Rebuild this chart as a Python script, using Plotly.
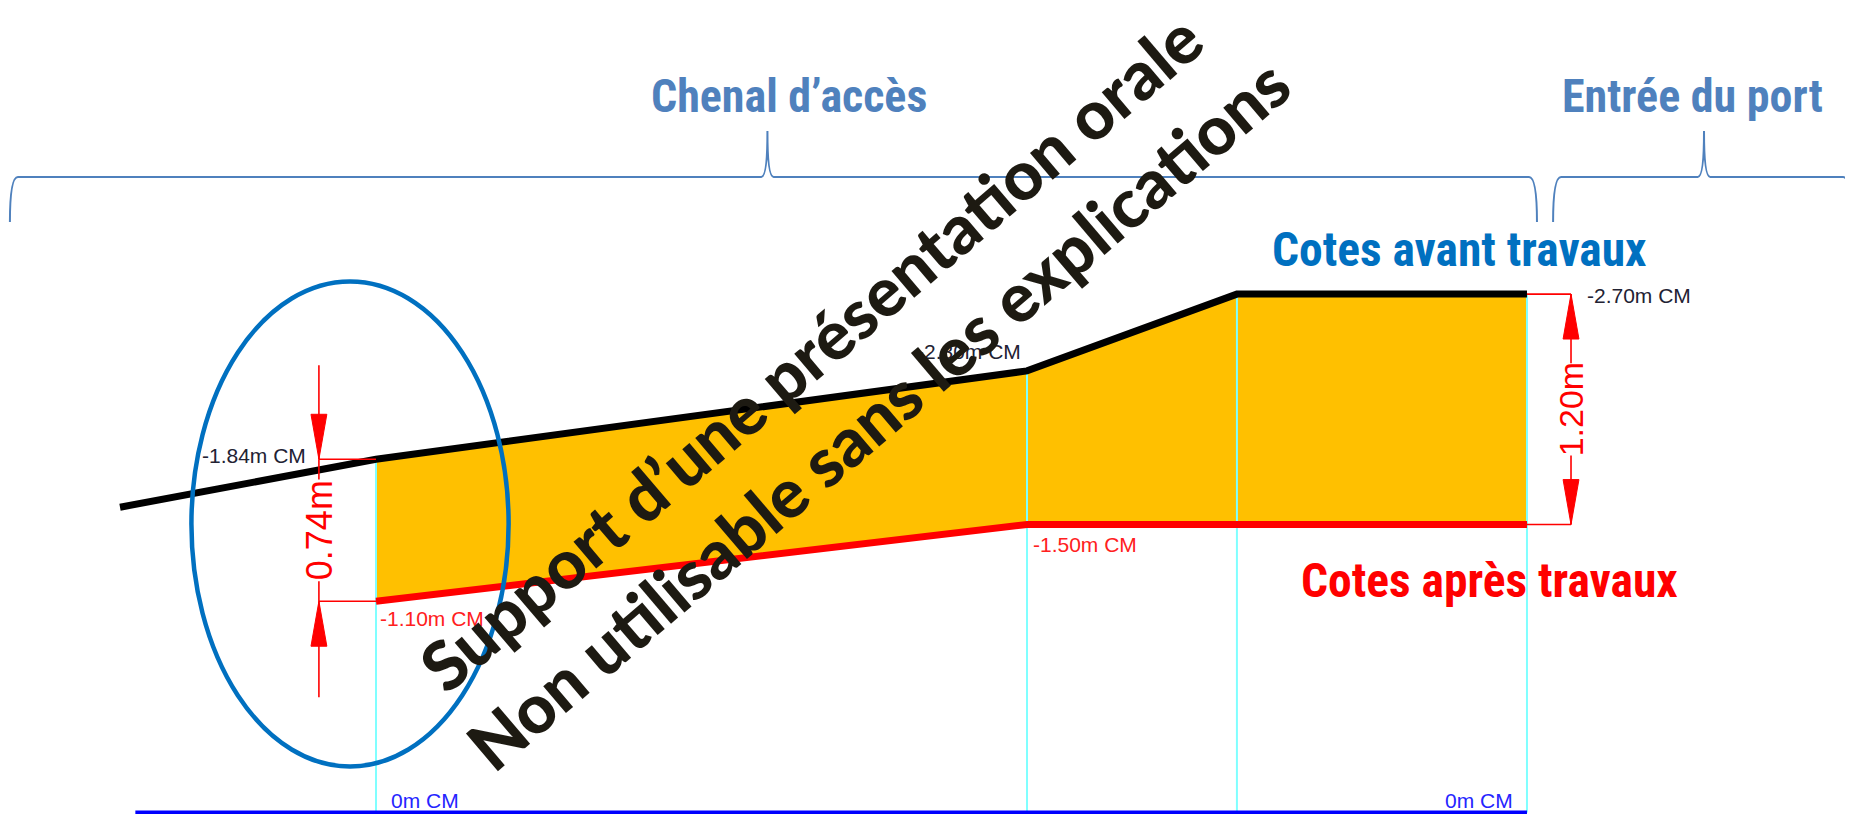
import plotly.graph_objects as go

# ---------------- data ----------------
# chainage (arbitrary metres along the channel) and levels (m CM)
x_avant = [0, 100, 354.3, 436.3, 549.6]
cotes_avant = [-1.59, -1.84, -2.30, -2.70, -2.70]
x_apres = [100, 354.3, 549.6]
cotes_apres = [-1.10, -1.50, -1.50]
x_zero = [6, 549.6]
cotes_zero = [0.0, 0.0]

labels_avant = ["-1.84m CM", "-2.30m CM", "-2.70m CM"]
labels_apres = ["-1.10m CM", "-1.50m CM"]
label_zero = "0m CM"

sections = ["Chenal d’accès", "Entrée du port"]
section_start = [-43.0, 559.8]
section_end = [553.5, 676.2]
section_peak = [252.9, 618.75]
section_text_x = [261.3, 614.1]

dims = ["0.74m", "1.20m"]

watermark = ["Support d’une présentation orale",
             "Non utilisable sans les explications"]

# ---------------- styles ----------------
BLUE_T = "#4F81BD"
BLUE2 = "#0070C0"
ORANGE = "#FFC000"
RED = "#FF0000"
CYAN = "#80FFFF"
NARROW = "Liberation Sans Narrow, Arial Narrow, Roboto Condensed, DejaVu Sans Condensed, sans-serif"
ARIAL = "Liberation Sans, Arial, sans-serif"

fig = go.Figure()

# orange fill between profiles
fx = [x for x in x_avant if x >= x_apres[0]] + x_apres[::-1]
fy = [c for x, c in zip(x_avant, cotes_avant) if x >= x_apres[0]] + cotes_apres[::-1]
fig.add_trace(go.Scatter(x=fx, y=fy, fill="toself", fillcolor=ORANGE, mode="lines",
                         line=dict(width=0), hoverinfo="skip"))

# cyan verticals at profile points
vx, vy = [], []
for x, c in zip(x_avant[1:], cotes_avant[1:]):
    vx += [x, x, None]
    vy += [c, 0, None]
fig.add_trace(go.Scatter(x=vx, y=vy, mode="lines", line=dict(color=CYAN, width=2), hoverinfo="skip"))

# profiles
fig.add_trace(go.Scatter(x=x_avant, y=cotes_avant, mode="lines",
                         line=dict(color="black", width=7), hoverinfo="skip"))
fig.add_trace(go.Scatter(x=x_apres, y=cotes_apres, mode="lines",
                         line=dict(color=RED, width=7), hoverinfo="skip"))
fig.add_trace(go.Scatter(x=x_zero, y=cotes_zero, mode="lines",
                         line=dict(color="#0000FF", width=4), hoverinfo="skip", cliponaxis=False))

shapes = []
ann = []

# braces
def brace(xa, xb, xm, yh=-3.310, yl=-3.076, yp=-3.549, r=3.1, rp=2.4):
    return (f"M {xa},{yl} Q {xa},{yh} {xa + r},{yh} L {xm - rp},{yh} Q {xm},{yh} {xm},{yp} "
            f"Q {xm},{yh} {xm + rp},{yh} L {xb - r},{yh} Q {xb},{yh} {xb},{yl}")

for name, xa, xb, xm, tx in zip(sections, section_start, section_end, section_peak, section_text_x):
    shapes.append(dict(type="path", path=brace(xa, xb, xm), xref="x", yref="y",
                       line=dict(color=BLUE_T, width=2)))
    ann.append(dict(x=tx, y=-3.734, text=name, showarrow=False, xanchor="center", yanchor="middle",
                    font=dict(family=NARROW, size=46, color=BLUE_T, weight="bold")))

ann.append(dict(x=523.4, y=-2.93, text="Cotes avant travaux", showarrow=False,
                font=dict(family=NARROW, size=47.5, color=BLUE2, weight="bold")))
ann.append(dict(x=534.8, y=-1.206, text="Cotes après travaux", showarrow=False,
                font=dict(family=NARROW, size=47.5, color=RED, weight="bold")))

# level labels
small = 21
ann.append(dict(x=x_avant[1], y=cotes_avant[1], text=labels_avant[0], showarrow=False,
                xanchor="right", yanchor="middle", xshift=-68, yshift=4,
                font=dict(family=ARIAL, size=small, color="#222233")))
ann.append(dict(x=x_avant[2], y=cotes_avant[2], text=labels_avant[1], showarrow=False,
                xanchor="right", yanchor="middle", xshift=-4, yshift=19,
                font=dict(family=ARIAL, size=small, color="#222233")))
ann.append(dict(x=x_avant[4], y=cotes_avant[4], text=labels_avant[2], showarrow=False,
                xanchor="left", yanchor="middle", xshift=58, yshift=-1,
                font=dict(family=ARIAL, size=small, color="#222233")))
ann.append(dict(x=x_apres[0], y=cotes_apres[0], text=labels_apres[0], showarrow=False,
                xanchor="left", yanchor="middle", xshift=2, yshift=-17,
                font=dict(family=ARIAL, size=small, color="#FF2020")))
ann.append(dict(x=x_apres[1], y=cotes_apres[1], text=labels_apres[1], showarrow=False,
                xanchor="left", yanchor="middle", xshift=4, yshift=-20,
                font=dict(family=ARIAL, size=small, color="#FF2020")))
ann.append(dict(x=x_apres[0], y=0, text=label_zero, showarrow=False,
                xanchor="left", yanchor="middle", xshift=13, yshift=12,
                font=dict(family=ARIAL, size=small, color="#2525FF")))
ann.append(dict(x=x_avant[4], y=0, text=label_zero, showarrow=False,
                xanchor="right", yanchor="middle", xshift=-12, yshift=12,
                font=dict(family=ARIAL, size=small, color="#2525FF")))

# dimension lines
def seg(x0, y0, x1, y1, w=1.6):
    shapes.append(dict(type="line", x0=x0, y0=y0, x1=x1, y1=y1, xref="x", yref="y",
                       line=dict(color=RED, width=w)))

def head(x, ytip, ybase, hw=3.1):
    shapes.append(dict(type="path", xref="x", yref="y",
                       path=f"M {x - hw},{ybase} L {x},{ytip} L {x + hw},{ybase} Z",
                       fillcolor=RED, line=dict(color=RED, width=1)))

AL = 0.234  # arrow length (m)
# left dimension (outside arrows)
xl = 77.7
top, bot = cotes_avant[1], cotes_apres[0]
mid = (top + bot) / 2
seg(xl, top, x_avant[1], top)
seg(xl, bot, x_apres[0], bot)
seg(xl, top - 0.49, xl, top)
seg(xl, bot, xl, bot + 0.50)
seg(xl, top, xl, mid - 0.265)
seg(xl, mid + 0.265, xl, bot)
head(xl, top, top - AL)
head(xl, bot, bot + AL)
ann.append(dict(x=xl, y=mid, text=dims[0], showarrow=False, textangle=-90,
                xanchor="center", yanchor="middle",
                font=dict(family=ARIAL, size=36, color=RED)))

# right dimension (inside arrows)
xr = 566.8
top, bot = cotes_avant[4], cotes_apres[2]
mid = (top + bot) / 2
seg(x_avant[4], top, xr, top)
seg(x_apres[2], bot, xr, bot)
seg(xr, top, xr, mid - 0.24)
seg(xr, mid + 0.24, xr, bot)
head(xr, top, top + AL)
head(xr, bot, bot - AL)
ann.append(dict(x=xr, y=mid, text=dims[1], showarrow=False, textangle=-90,
                xanchor="center", yanchor="middle",
                font=dict(family=ARIAL, size=34, color=RED)))

# ellipse highlight
shapes.append(dict(type="circle", xref="x", yref="y", x0=27.9, x1=151.8, y0=-2.766, y1=-0.2396,
                   line=dict(color=BLUE2, width=4.5)))

# watermark
for t, px, py in zip(watermark, [0.4347, 0.471], [0.5744, 0.4975]):
    ann.append(dict(x=px, y=py, xref="paper", yref="paper", text=t, showarrow=False,
                    textangle=-40.4, xanchor="center", yanchor="middle",
                    font=dict(family="Lato, Open Sans, sans-serif", size=68, color="#1d1a12",
                              weight=900)))

# page body has an 8px margin: figure is sized/ranged so that it fills the window
fig.update_layout(
    width=1845, height=806,
    margin=dict(l=0, r=0, t=0, b=0),
    paper_bgcolor="white", plot_bgcolor="white",
    showlegend=False,
    xaxis=dict(range=[-43.75, 676.95], visible=False, fixedrange=True),
    yaxis=dict(range=[0.0078, -4.1901], visible=False, fixedrange=True),
    shapes=shapes, annotations=ann,
)

fig.write_html("out.html")
